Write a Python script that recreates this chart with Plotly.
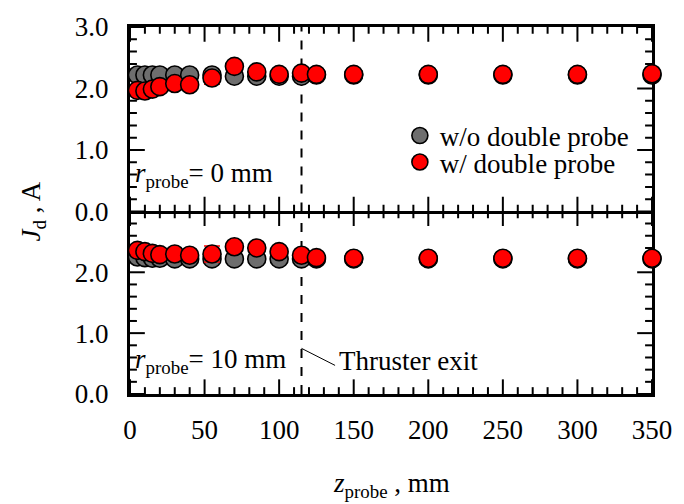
import plotly.graph_objects as go

# Axial probe position (mm)
z_probe = [5, 10, 15, 20, 30, 40, 55, 70, 85, 100, 115, 125, 150, 200, 250, 300, 350]

# Discharge current J_d (A), r_probe = 0 mm
jd_r0_without = [2.22, 2.22, 2.22, 2.22, 2.22, 2.22, 2.22, 2.20, 2.20, 2.20, 2.20, 2.22, 2.22, 2.22, 2.22, 2.22, 2.22]
jd_r0_with = [1.97, 1.96, 1.99, 2.03, 2.08, 2.06, 2.17, 2.36, 2.27, 2.23, 2.25, 2.23, 2.23, 2.23, 2.23, 2.23, 2.24]
jd_r0_with_err = [0, 0, 0, 0, 0, 0, 0.10, 0, 0, 0, 0, 0, 0, 0, 0, 0, 0]

# Discharge current J_d (A), r_probe = 10 mm
jd_r10_without = [2.25, 2.24, 2.23, 2.23, 2.22, 2.22, 2.22, 2.22, 2.22, 2.22, 2.22, 2.22, 2.22, 2.22, 2.22, 2.22, 2.22]
jd_r10_with = [2.36, 2.34, 2.31, 2.29, 2.30, 2.28, 2.30, 2.42, 2.40, 2.34, 2.28, 2.24, 2.23, 2.23, 2.23, 2.23, 2.23]
jd_r10_with_err = [0, 0, 0, 0, 0, 0, 0.13, 0, 0, 0, 0, 0, 0, 0, 0, 0, 0]

series_names = ["w/o double probe", "w/ double probe"]
panel_labels = ["<i>r</i><sub>probe</sub>= 0 mm", "<i>r</i><sub>probe</sub>= 10 mm"]
thruster_exit_z = 115

# Axis extents and tick spacing
Z_MAX, Z_MAJOR, Z_MINOR = 350, 50, 10
J_MAX, J_MAJOR, J_MINOR = 3.0, 1.0, 0.2

FONT = "Liberation Serif, Times New Roman, serif"
GRAY = "rgb(110,110,110)"
RED = "rgb(255,0,0)"

W, H = 684, 504
ML, MR, MT, MB = 130, 26, 18, 110
PLOT_W, PLOT_H = W - ML - MR, H - MT - MB
split = 187 / 376
MAJOR_LEN, MINOR_LEN = 15, 7  # tick lengths in pixels

fig = go.Figure()


def tick_trace(xa, ya, j_top, panel_px):
    """Inward major/minor ticks on all four sides of one panel, as one line trace."""
    px_per_z = PLOT_W / Z_MAX
    px_per_j = panel_px / j_top
    xs, ys = [], []
    n_z = int(round(Z_MAX / Z_MINOR))
    for i in range(n_z + 1):
        zv = i * Z_MINOR
        ln = (MAJOR_LEN if zv % Z_MAJOR == 0 else MINOR_LEN) / px_per_j
        xs += [zv, zv, None, zv, zv, None]
        ys += [0, ln, None, j_top, j_top - ln, None]
    n_j = int(round(J_MAX / J_MINOR))
    for i in range(n_j + 1):
        jv = round(i * J_MINOR, 6)
        if jv > j_top:
            continue
        is_major = abs(jv / J_MAJOR - round(jv / J_MAJOR)) < 1e-6
        ln = (MAJOR_LEN if is_major else MINOR_LEN) / px_per_z
        xs += [0, ln, None, Z_MAX, Z_MAX - ln, None]
        ys += [jv, jv, None, jv, jv, None]
    return go.Scatter(x=xs, y=ys, mode="lines", xaxis=xa, yaxis=ya, showlegend=False,
                      hoverinfo="skip", line=dict(color="black", width=2))


def add_pair(y_wo, y_w, y_err, xa, ya, show_legend):
    fig.add_trace(go.Scatter(
        x=z_probe, y=y_wo, mode="markers", name=series_names[0],
        xaxis=xa, yaxis=ya, cliponaxis=False, showlegend=show_legend, legend="legend",
        marker=dict(size=18, color=GRAY, line=dict(color="black", width=1.6)),
    ))
    fig.add_trace(go.Scatter(
        x=z_probe, y=y_w, mode="markers", name=series_names[1],
        xaxis=xa, yaxis=ya, cliponaxis=False, showlegend=show_legend, legend="legend2",
        error_y=dict(type="data", array=y_err, visible=True, color=RED, thickness=1.5, width=8),
        marker=dict(size=18, color=RED, line=dict(color="black", width=1.6)),
    ))


top_range = J_MAX
bottom_range = J_MAX - 0.001
fig.add_trace(tick_trace("x", "y", top_range, PLOT_H * (1 - split)))
fig.add_trace(tick_trace("x2", "y2", bottom_range, PLOT_H * split))
add_pair(jd_r0_without, jd_r0_with, jd_r0_with_err, "x", "y", True)
add_pair(jd_r10_without, jd_r10_with, jd_r10_with_err, "x2", "y2", False)

# Axis lines and labels; transparent outside ticks only set the label offset.
xcommon = dict(
    range=[0, Z_MAX], tick0=0, dtick=Z_MAJOR, ticks="outside", ticklen=10,
    tickcolor="rgba(0,0,0,0)", showline=True, linewidth=3, linecolor="black",
    showgrid=False, zeroline=False, layer="below traces",
    tickfont=dict(family=FONT, size=27, color="black"),
)
ycommon = dict(
    tick0=0, dtick=J_MAJOR, ticks="outside", ticklen=13, tickformat=".1f",
    tickcolor="rgba(0,0,0,0)", showline=True, linewidth=3, linecolor="black", mirror=True,
    showgrid=False, zeroline=False, layer="below traces",
    tickfont=dict(family=FONT, size=27, color="black"),
)

fig.update_layout(
    width=W, height=H,
    margin=dict(l=ML, r=MR, t=MT, b=MB),
    paper_bgcolor="white", plot_bgcolor="white",
    font=dict(family=FONT, size=27, color="black"),
    xaxis=dict(xcommon, domain=[0, 1], anchor="y", showticklabels=False, mirror=True),
    yaxis=dict(ycommon, domain=[split, 1], anchor="x", range=[0, top_range]),
    xaxis2=dict(xcommon, domain=[0, 1], anchor="y2", showticklabels=True, mirror=False),
    yaxis2=dict(ycommon, domain=[0, split], anchor="x2", range=[0, bottom_range]),
    legend=dict(x=0.517, y=0.703, xanchor="left", yanchor="middle", bgcolor="rgba(0,0,0,0)",
                font=dict(family=FONT, size=27, color="black"), borderwidth=0),
    legend2=dict(x=0.517, y=0.631, xanchor="left", yanchor="middle", bgcolor="rgba(0,0,0,0)",
                 font=dict(family=FONT, size=27, color="black"), borderwidth=0),
)

# Thruster exit marker across both panels
for ya in ["y", "y2"]:
    fig.add_shape(type="line", xref="x", yref=ya + " domain", x0=thruster_exit_z, x1=thruster_exit_z,
                  y0=0, y1=1, line=dict(color="black", width=2, dash="dash"), layer="below")

# Leader line to the "Thruster exit" label
fig.add_shape(type="line", xref="x2", yref="y2", x0=thruster_exit_z, y0=0.75, x1=137.5, y1=0.47,
              line=dict(color="black", width=1))
fig.add_annotation(x=138.5, y=0.55, xref="x2", yref="y2", text="Thruster exit", showarrow=False,
                   xanchor="left", yanchor="middle", font=dict(family=FONT, size=27, color="black"))

# Panel labels
fig.add_annotation(x=0.006, y=0.598, xref="paper", yref="paper", text=panel_labels[0], showarrow=False,
                   xanchor="left", yanchor="middle", font=dict(family=FONT, size=27, color="black"))
fig.add_annotation(x=0.006, y=0.09, xref="paper", yref="paper", text=panel_labels[1], showarrow=False,
                   xanchor="left", yanchor="middle", font=dict(family=FONT, size=27, color="black"))

# Axis titles
fig.add_annotation(x=-0.184, y=split, xref="paper", yref="paper", text="<i>J</i><sub>d</sub> , A",
                   showarrow=False, textangle=-90, xanchor="center", yanchor="middle",
                   font=dict(family=FONT, size=27, color="black"))
fig.add_annotation(x=0.5, y=-0.248, xref="paper", yref="paper", text="<i>z</i><sub>probe</sub> , mm",
                   showarrow=False, xanchor="center", yanchor="middle",
                   font=dict(family=FONT, size=27, color="black"))

fig.write_html("out.html")
